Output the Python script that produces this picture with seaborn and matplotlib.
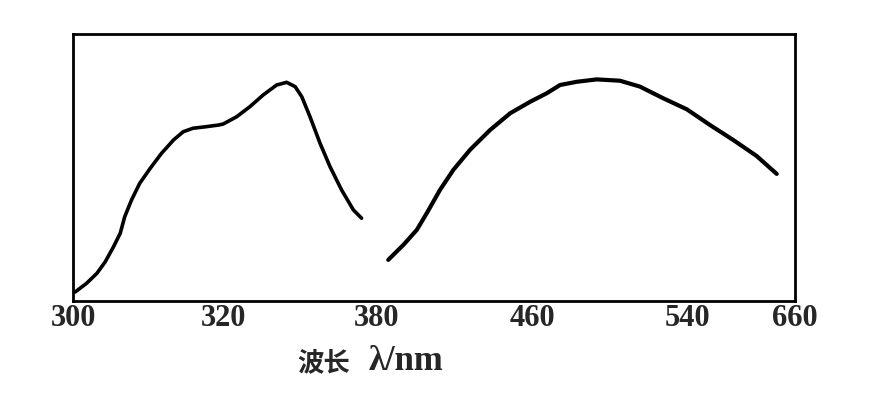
import numpy as np
import pandas as pd
import matplotlib
matplotlib.use("Agg")
import matplotlib.pyplot as plt
import seaborn as sns

sns.set_style("white")
plt.rcParams['font.family'] = ['Liberation Serif', 'Noto Sans CJK SC', 'DejaVu Sans']

# 激发光谱 (excitation)
ex_nm = [300.3, 301.8, 303.2, 304.3, 305.4, 306.3, 306.9, 307.8, 308.9, 310.3,
         311.8, 313.4, 314.7, 316.0, 317.8, 319.4, 320.1, 325.3, 330.5, 335.7,
         340.9, 344.8, 348.1, 350.7, 353.9, 357.8, 361.7, 366.2, 370.8, 374.0]
ex_int = [3.4, 6.6, 10.4, 14.7, 20.3, 25.4, 31.6, 37.8, 44.1, 49.7,
          55.3, 60.3, 63.4, 64.7, 65.3, 65.9, 66.3, 69.0, 72.8, 77.2,
          80.9, 81.9, 80.3, 76.5, 69.0, 59.1, 50.3, 41.6, 34.1, 31.0]
# 发射光谱 (emission)
em_nm = [385.8, 393.6, 400.5, 405.7, 412.5, 419.4, 428.0, 438.3, 448.7, 459.0,
         467.6, 474.5, 483.1, 493.4, 505.4, 515.7, 527.8, 539.9, 565.6, 591.4,
         617.4, 639.7]
em_int = [15.4, 21.0, 26.6, 32.9, 41.6, 49.1, 56.6, 64.0, 70.3, 74.6,
          77.8, 80.9, 82.1, 83.0, 82.5, 80.3, 75.9, 71.8, 65.9, 60.3,
          54.3, 47.6]

tick_nm = [300, 320, 380, 460, 540, 660]
tick_labels = ['300', '320', '380', '460', '540', '660']
# broken (piecewise) axis as printed in the original figure
tick_pos = [0, 150, 304, 459, 614, 722]


def fwd(x):
    return np.interp(x, tick_nm, tick_pos)


def inv(y):
    return np.interp(y, tick_pos, tick_nm)


fig = plt.figure(figsize=(8.88, 3.98), dpi=100)
ax = fig.add_axes([73 / 888, 1 - 301 / 398, 722 / 888, 267 / 398])
ax.set_xscale('function', functions=(fwd, inv))

ex = pd.DataFrame({'nm': ex_nm, 'I': ex_int})
em = pd.DataFrame({'nm': em_nm, 'I': em_int})
sns.lineplot(data=ex, x='nm', y='I', ax=ax, color='black', lw=2.6,
             solid_capstyle='round', solid_joinstyle='round')
sns.lineplot(data=em, x='nm', y='I', ax=ax, color='black', lw=3.0,
             solid_capstyle='round', solid_joinstyle='round')

ax.set_xlim(300, 660)
ax.set_ylim(0, 100)
ax.set_xticks(tick_nm)
ax.set_xticklabels(tick_labels, fontsize=22, fontweight='bold')
ax.set_yticks([])
ax.tick_params(axis='x', direction='in', length=5, width=1.5, pad=2)
ax.set_xlabel('')
ax.set_ylabel('')
for s in ax.spines.values():
    s.set_linewidth(2)
    s.set_color('black')

# 轴标题: 中文与符号分开写, 符号部分字号较大
fig.text(324 / 888, 1 - 363 / 398, '波长', ha='center', va='center',
         fontsize=19, fontweight='bold')
fig.text(406 / 888, 1 - 362 / 398, 'λ/nm', ha='center', va='center',
         fontsize=25, fontweight='bold')

fig.savefig('out.png', dpi=100)
